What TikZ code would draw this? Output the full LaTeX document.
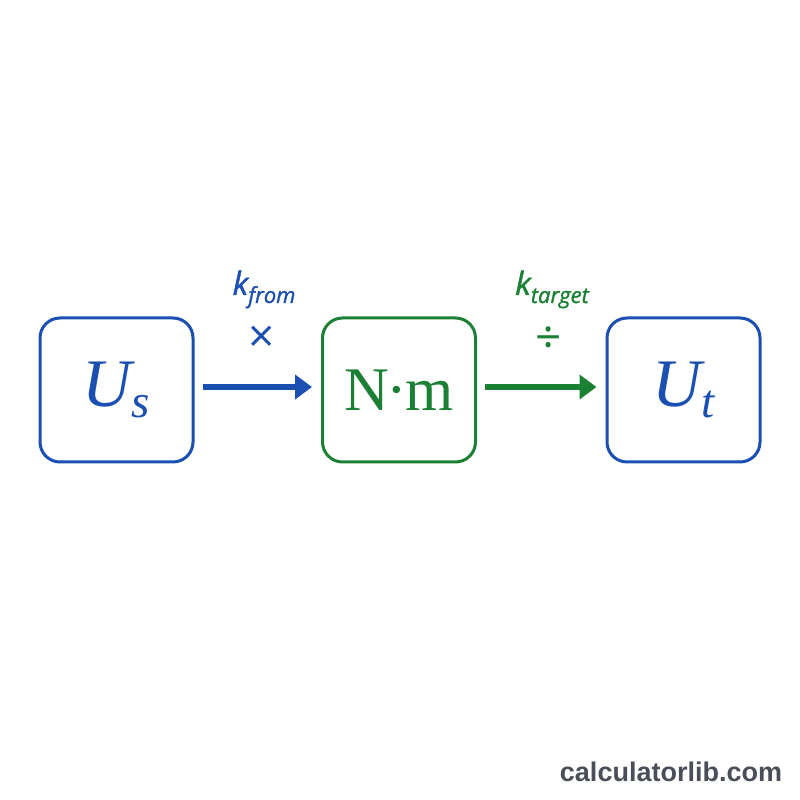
\documentclass[tikz,border=0pt]{standalone}
\usepackage{fontspec}
\setmainfont{Liberation Serif}
\newfontfamily\labelfont[ItalicFeatures={FakeBold=1.4}]{Open Sans}
\newfontfamily\markfont{Liberation Sans}
\usetikzlibrary{arrows.meta}
\definecolor{unitblue}{RGB}{27,79,178}
\definecolor{basegreen}{RGB}{28,128,52}
\definecolor{markgray}{RGB}{74,78,88}

\begin{document}
\begin{tikzpicture}[x=1pt, y=1pt,
  unitbox/.style={draw, rounded corners=20pt, line width=3pt, minimum width=153pt, minimum height=144pt, inner sep=0pt},
  conv/.style={line width=6pt, -{Triangle[length=17pt,width=24pt]}, shorten <=8pt, shorten >=9pt},
  factor/.style={font=\labelfont\fontsize{32}{32}\selectfont\itshape, anchor=base, inner sep=0pt},
  opsign/.style={font=\labelfont\fontsize{46}{46}\selectfont, inner sep=0pt}]
                            \fill[white] (0,0) rectangle (800,800);
                            \useasboundingbox (0,0) rectangle (800,800);

                            \node[unitbox, draw=unitblue, text=unitblue] (src) at (116.5,410) {\fontsize{68}{68}\selectfont\itshape U\raisebox{-11pt}{\fontsize{47}{47}\selectfont s}};
                            \node[unitbox, draw=basegreen, text=basegreen] (base) at (399,410) {\fontsize{62}{62}\selectfont N\kern-2pt·\kern-2pt m};
                            \node[unitbox, draw=unitblue, text=unitblue] (tgt) at (683.5,410) {\fontsize{68}{68}\selectfont\itshape U\raisebox{-11pt}{\fontsize{47}{47}\selectfont t}};

                            \node[factor, text=unitblue] (kfrom) at (264,505) {k\raisebox{-8pt}{\fontsize{22}{22}\selectfont from}};
                            \node[opsign, text=unitblue] (times) at (262,461) {×};
                            \node[factor, text=basegreen] (ktarget) at (552,505) {k\raisebox{-8pt}{\fontsize{22}{22}\selectfont target}};
                            \node[opsign, text=basegreen] (divide) at (549,460) {÷};

                            \draw[conv, unitblue] ([yshift=3pt]src.east) -- ([yshift=3pt]base.west);
                            \draw[conv, basegreen] ([yshift=3pt]base.east) -- ([yshift=3pt]tgt.west);

                            \node[font=\markfont\bfseries\fontsize{27}{27}\selectfont, text=markgray, anchor=base] (mark) at (671,18) {calculatorlib.com};
                        \end{tikzpicture}
\end{document}
